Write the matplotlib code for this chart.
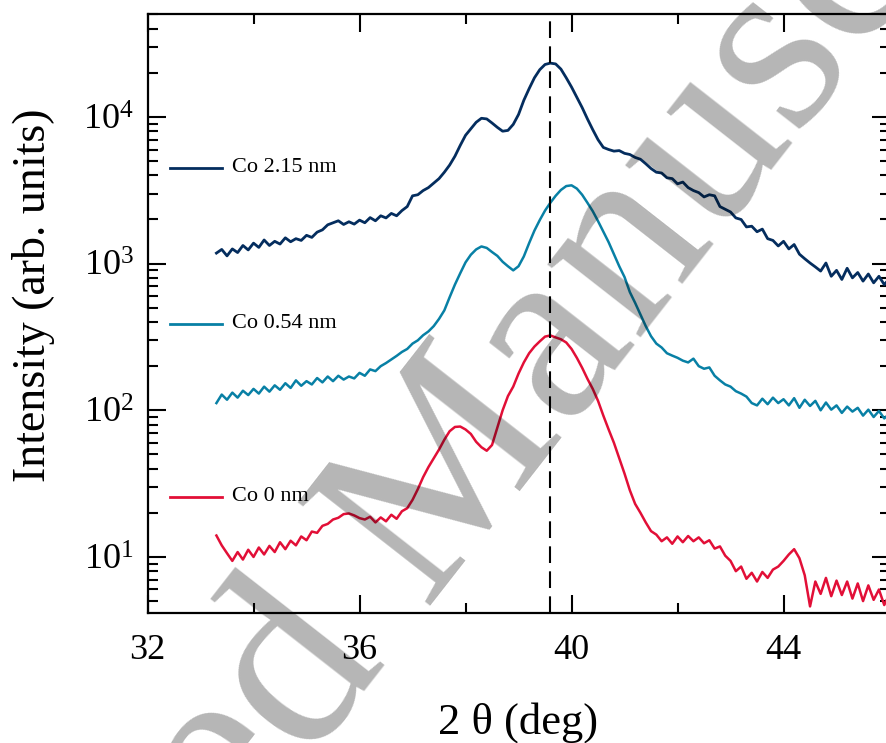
import numpy as np
import matplotlib
matplotlib.use("Agg")
import matplotlib.pyplot as plt
from matplotlib.ticker import FixedLocator, LogLocator, NullFormatter

plt.rcParams["font.family"] = ["Liberation Serif", "DejaVu Serif"]
plt.rcParams["mathtext.fontset"] = "custom"
plt.rcParams["mathtext.rm"] = "Liberation Serif"
plt.rcParams["mathtext.it"] = "Liberation Serif:italic"

# scan: 2theta from 33.3 deg in 0.1 deg steps
scan_start = 33.3
scan_step = 0.1

# intensity (arb. units) for each Co thickness
co_215 = [
    1180, 1250, 1130, 1260, 1190, 1330, 1240, 1380, 1290, 1450,
    1330, 1420, 1360, 1500, 1410, 1480, 1440, 1560, 1510, 1640,
    1700, 1840, 1900, 1960, 1850, 1930, 1860, 1980, 1900, 2060,
    1960, 2120, 2050, 2200, 2120, 2300, 2450, 2900, 2950, 3150,
    3300, 3540, 3800, 4200, 4700, 5400, 6400, 7500, 8300, 9200,
    9800, 9700, 9100, 8500, 8000, 8100, 8900, 10400, 13000, 15600,
    18500, 21000, 22800, 23300, 23000, 21200, 18500, 16000, 13600, 11600,
    9700, 8200, 7000, 6200, 6000, 5850, 5900, 5650, 5550, 5300,
    5150, 4800, 4450, 4200, 4150, 3850, 3800, 3500, 3600, 3300,
    3150, 3050, 2850, 2950, 2900, 2450, 2350, 2250, 2050, 2000,
    1780, 1800, 1650, 1720, 1480, 1440, 1320, 1420, 1260, 1350,
    1160, 1080, 1010, 950, 890, 1010, 820, 900, 780, 930,
    800, 870, 760, 850, 740, 820, 720, 790,
]

co_054 = [
    112, 128, 118, 132, 122, 136, 127, 140, 130, 145,
    134, 148, 138, 153, 142, 160, 147, 158, 150, 166,
    155, 170, 158, 172, 162, 170, 165, 180, 172, 190,
    185, 200, 210, 222, 235, 250, 262, 285, 300, 325,
    345, 375, 420, 480, 590, 720, 860, 1020, 1150, 1250,
    1310, 1280, 1200, 1130, 1030, 960, 900, 960, 1120, 1380,
    1680, 1980, 2300, 2600, 2900, 3180, 3380, 3420, 3250, 2950,
    2600, 2280, 1950, 1650, 1400, 1160, 960, 810, 640, 540,
    450, 375, 320, 285, 268, 245, 236, 228, 218, 212,
    225, 200, 192, 196, 172, 160, 150, 145, 135, 130,
    124, 112, 108, 120, 110, 122, 112, 119, 108, 121,
    104, 118, 107, 116, 100, 113, 101, 108, 96, 106,
    98, 104, 92, 101, 90, 99, 88, 95,
]

co_0 = [
    14.0, 12.0, 10.6, 9.4, 10.8, 9.6, 11.2, 10.0, 11.6, 10.4,
    11.9, 10.8, 12.6, 11.3, 12.9, 12.0, 13.8, 13.0, 14.9, 14.6,
    16.3, 16.8, 18.0, 18.5, 19.6, 19.8, 19.2, 18.4, 18.0, 18.8,
    17.2, 18.6, 17.5, 19.4, 18.2, 20.5, 21.5, 24.5, 29.0, 35.0,
    41.0, 47.0, 54.0, 63.0, 72.0, 77.0, 77.5, 74.0, 69.0, 61.0,
    56.0, 53.0, 58.0, 76.0, 100.0, 125.0, 145.0, 178.0, 212.0, 245.0,
    272.0, 295.0, 318.0, 324.0, 314.0, 305.0, 290.0, 262.0, 228.0, 195.0,
    164.0, 140.0, 116.0, 92.0, 74.0, 60.0, 47.0, 37.0, 28.5, 23.0,
    20.0, 17.2, 15.0, 14.2, 12.8, 13.6, 12.3, 13.8, 12.6, 13.9,
    12.8, 13.6, 12.4, 13.0, 11.4, 11.8, 10.2, 9.4, 8.0, 8.6,
    7.1, 7.8, 6.8, 7.9, 7.2, 8.2, 8.6, 9.4, 10.4, 11.3,
    9.8, 7.5, 4.6, 6.8, 5.6, 7.2, 5.4, 6.9, 5.5, 6.8,
    5.2, 6.6, 5.0, 6.4, 5.1, 6.0, 4.7, 5.6,
]

series_labels = ["Co 2.15 nm", "Co 0.54 nm", "Co 0 nm"]
series_colors = ["#042d5e", "#0880a5", "#e20f37"]
series_widths = [2.0, 1.8, 1.8]
ref_peak = 39.6

fig = plt.figure(figsize=(8.86, 7.43), dpi=100)
ax = fig.add_axes([0.1665, 0.175, 0.8375, 0.8062])

for values, color, w in zip([co_215, co_054, co_0], series_colors, series_widths):
    tt = scan_start + scan_step * np.arange(len(values))
    ax.plot(tt, values, color=color, lw=w, solid_joinstyle="round")

ax.axvline(ref_peak, color="black", lw=1.5, linestyle=(0, (8, 4)))

ax.set_yscale("log")
ax.set_xlim(32, 46)
ax.set_ylim(4.15, 5.04e4)

ax.xaxis.set_major_locator(FixedLocator([32, 36, 40, 44]))
ax.xaxis.set_minor_locator(FixedLocator([34, 38, 42, 46]))
ax.yaxis.set_major_locator(LogLocator(base=10, numticks=10))
ax.yaxis.set_minor_locator(LogLocator(base=10, subs=np.arange(2, 10), numticks=10))
ax.yaxis.set_minor_formatter(NullFormatter())

ax.tick_params(which="both", direction="in", top=True, right=True, width=1.5)
ax.tick_params(which="major", length=13, labelsize=26)
ax.tick_params(axis="x", which="major", pad=15)
ax.tick_params(axis="y", which="major", pad=10)
ax.tick_params(which="minor", length=7)
for sp in ax.spines.values():
    sp.set_linewidth(1.6)

ax.set_xlabel("2 \u03b8 (deg)", fontsize=32)
ax.xaxis.set_label_coords(0.5, -0.148)
fig.text(34 / 886, 1 - 295 / 743, "Intensity (arb. units)", rotation=90,
         fontsize=33, ha="center", va="center")

# hand-placed key next to each trace
key_y = [0.743, 0.4825, 0.1937]
for lab, color, yk in zip(series_labels, series_colors, key_y):
    ax.plot([0.0303, 0.1004], [yk, yk], color=color, lw=2.0, transform=ax.transAxes)
    ax.text(0.1139, yk, lab, transform=ax.transAxes, fontsize=16,
            va="center", ha="left")

fig.text(420 / 886, 1 - 520 / 743, "Accepted Manuscript", rotation=52,
         rotation_mode="anchor", ha="center", va="center", fontsize=185,
         color="black", alpha=0.29, zorder=10)

fig.savefig("out.png", dpi=100)
